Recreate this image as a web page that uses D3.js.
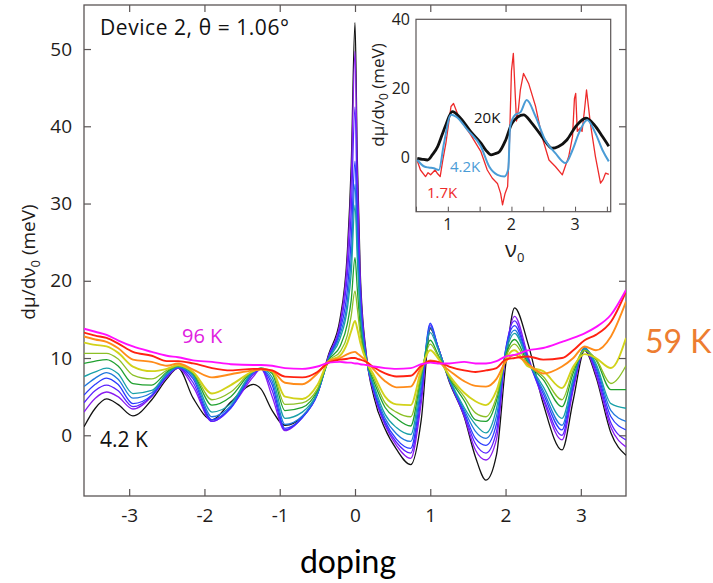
<!DOCTYPE html>
<html><head><meta charset="utf-8">
<script src="https://cdn.jsdelivr.net/npm/d3@7"></script>
<style>
body{margin:0;background:#fff;}
svg{display:block;font-family:"Open Sans",sans-serif;}
</style>
</head><body>
<svg id="c" width="713" height="583"></svg>
<script>
// ---------- main panel data ----------
const doping = [-3.6,-3.45,-3.3,-3.15,-2.95,-2.7,-2.5,-2.35,-2.15,-1.9,-1.65,-1.35,-1.25,-1.1,-0.93,-0.7,-0.5,-0.35,-0.2,-0.1,-0.05,0,0.03,0.07,0.15,0.25,0.4,0.55,0.74,0.88,1.0,1.1,1.25,1.45,1.6,1.74,1.88,2.0,2.12,2.3,2.5,2.75,2.9,3.05,3.2,3.4,3.6];
const T01_4p2K = [1.1,3.5,4.7,4.0,2.5,4.6,7.3,8.7,4.8,2.0,4.3,6.6,6.0,3.2,1.3,2.4,5.5,10.5,15.0,24,35,53.4,36,21,10.5,5.0,0.8,-1.8,-3.8,2.0,13.8,11.5,7.0,2.4,-2.8,-5.8,-2.5,9.0,16.5,11.8,4.1,-1.9,4.6,11.0,7.6,0.3,-2.6];
const T02 = [3.0,4.8,5.6,5.0,3.4,5.0,7.5,8.7,6.3,1.8,3.6,7.6,8.6,5.0,0.6,2.3,5.3,10.3,14.5,23,33,49.7,34,20,10.3,5.5,1.3,-1.3,-3.0,4.2,14.0,11.5,7.2,2.5,-1.9,-3.2,-0.5,10.5,15.4,10.2,4.6,-0.6,5.9,11.2,7.9,1.0,-1.5];
const T03 = [4.2,5.8,6.5,5.8,3.7,5.1,7.6,8.8,6.8,1.8,3.5,7.9,8.6,5.8,0.7,2.3,5.3,10.2,14.0,21,29,42.5,30,19,10.2,5.7,1.5,-0.9,-2.3,5.0,14.3,11.5,7.2,2.7,-1.1,-2.3,0.5,11.0,14.8,9.8,4.9,0.0,6.3,11.3,8.3,1.6,-0.6];
const T04 = [5.2,6.6,7.4,6.6,4.1,5.2,7.7,8.8,7.3,2.0,3.6,8.1,8.6,6.5,0.9,2.3,5.3,10.0,13.5,19,25.5,35.5,27,17.5,10.0,5.9,1.8,-0.5,-1.7,5.9,14.5,11.5,7.3,3.0,-0.4,-1.3,1.5,11.0,14.2,9.7,5.4,0.7,6.8,11.3,8.7,2.4,0.7];
const T05 = [6.3,7.4,8.1,7.3,4.8,5.5,7.9,8.8,7.6,2.4,3.8,8.2,8.6,7.0,1.4,2.5,5.4,9.9,13.0,17.5,23,32.5,25,16.5,9.9,6.2,2.2,0.2,-0.8,6.5,14.0,11.4,7.3,3.3,0.5,-0.4,2.5,10.8,13.6,9.6,5.8,1.3,7.1,11.2,9.0,3.2,1.8];
const T06 = [7.6,8.2,8.7,8.0,5.4,5.8,8.0,8.9,7.8,3.0,4.1,8.3,8.7,7.5,2.2,3.0,5.5,9.8,12.5,16.5,21,29.8,23,15.5,9.8,6.5,2.7,1.0,0.1,7.2,13.3,11.2,7.4,3.6,1.4,0.3,3.5,10.5,13.2,9.5,6.3,2.2,7.4,11.2,9.3,4.1,3.5];
const T07 = [9.3,9.6,9.8,9.0,6.7,6.5,8.2,9.0,8.0,3.9,5.0,8.4,8.7,8.0,3.2,3.6,5.8,9.7,11.5,14.5,17.5,23.0,19,14,9.7,7.0,3.6,2.2,1.2,7.8,12.3,10.5,7.5,4.5,2.0,1.8,4.5,10.2,12.4,9.3,7.2,3.7,8.1,11.0,9.8,5.9,5.9];
const T08 = [10.6,10.6,10.6,9.9,7.8,7.3,8.4,9.0,8.1,4.6,5.6,8.4,8.6,8.2,4.0,4.2,6.0,9.6,10.8,13.0,15.5,18.7,16.5,13,9.6,7.4,4.2,3.0,2.4,8.0,11.8,10.3,7.6,5.0,2.9,2.4,5.0,10.0,11.8,9.1,7.6,4.6,8.5,11.0,9.9,6.7,9.0];
const T09 = [12.0,11.7,11.5,10.7,8.9,8.3,8.6,9.1,8.2,5.4,6.5,8.3,8.6,8.3,5.0,4.7,6.5,9.6,10.3,12,13.5,14.8,13.8,12,9.6,7.8,5.0,4.0,3.9,8.5,11.0,10.0,7.8,5.5,4.4,3.9,5.8,9.8,11.0,8.9,8.3,6.1,8.9,10.5,10.0,8.7,12.6];
const T10_59K = [12.8,12.4,12.1,11.3,9.8,9.5,9.0,9.3,8.5,7.5,7.9,8.4,8.5,8.3,6.8,6.6,8.0,9.6,10.0,10.5,10.7,10.8,10.6,10.3,9.6,8.5,7.0,6.2,6.3,8.8,9.7,9.5,8.4,7.0,6.4,6.3,7.3,9.5,10.4,9.2,8.0,8.9,10.0,11.5,11.0,12.8,17.3];
const T11 = [13.3,12.9,12.6,11.9,10.8,10.3,9.6,9.6,9.3,8.7,8.4,8.6,8.6,8.4,7.6,7.5,8.2,9.4,9.8,9.9,10.0,10.0,9.9,9.8,9.5,8.8,8.0,7.6,7.7,9.0,9.6,9.5,8.9,8.4,8.2,8.4,8.7,9.8,10.0,10.2,9.8,10.0,11.0,12.3,13.0,14.7,18.6];
const T12_96K = [13.8,13.4,13.0,12.3,11.5,10.8,10.3,10.1,9.7,9.5,9.2,9.1,9.1,9.0,8.7,8.6,8.9,9.4,9.5,9.4,9.4,9.3,9.3,9.2,9.1,8.9,8.7,8.6,8.7,9.2,9.4,9.3,9.3,9.5,9.3,9.3,9.6,10.2,10.4,11.0,11.3,12.1,12.6,13.2,14.0,15.6,18.8];
const mainSeries = [T01_4p2K,T02,T03,T04,T05,T06,T07,T08,T09,T10_59K,T11,T12_96K];
const mainColors = ["#111111","#8a1cf0","#5a22ff","#2b3bff","#2078dc","#18a0a8","#20a030","#8cc026","#d2d21a","#ff8c1a","#ff2212","#ff10ff"];
const mainXTicks = [-3,-2,-1,0,1,2,3];
const mainYTicks = [0,10,20,30,40,50];

// ---------- inset data ----------
const inset20K_nu = [0.52,0.6,0.68,0.76,0.84,0.91,0.97,1.07,1.2,1.36,1.52,1.6,1.68,1.74,1.81,1.91,2.01,2.19,2.32,2.48,2.64,2.74,2.87,3.01,3.17,3.3,3.43,3.53];
const inset20K_val = [-0.3,-0.6,-0.8,0.8,3.1,6.5,9.4,13.2,11.3,7.4,4.1,2.0,0.7,1.0,1.6,5.0,9.9,12.3,9.9,6.0,2.6,3.1,5.0,8.9,11.3,9.4,6.0,3.2];
const inset4K_nu = [0.52,0.63,0.7,0.78,0.86,0.94,1.05,1.13,1.31,1.52,1.65,1.78,1.89,1.95,1.98,2.06,2.14,2.24,2.38,2.53,2.69,2.85,2.96,3.06,3.19,3.32,3.43,3.53];
const inset4K_val = [-0.8,-2.7,-3.0,-3.2,-3.7,4.1,12.3,11.8,7.9,3.1,-2.7,-5.1,-5.6,-3.5,8.9,12.3,13.0,16.6,11.8,5.0,1.2,-1.7,2.1,7.0,10.8,7.0,2.1,-1.2];
const inset1K_nu = [0.52,0.57,0.65,0.69,0.73,0.8,0.84,0.88,0.92,0.97,1.05,1.09,1.18,1.36,1.52,1.62,1.7,1.78,1.83,1.86,1.9,1.94,1.97,2.0,2.03,2.06,2.08,2.11,2.14,2.19,2.27,2.38,2.48,2.59,2.69,2.8,2.9,2.96,2.99,3.01,3.035,3.08,3.11,3.15,3.18,3.24,3.32,3.4,3.44,3.48,3.53];
const inset1K_val = [-1.0,-3.7,-5.6,-4.5,-5.1,-3.7,-4.8,-5.6,-1.0,4.1,14.7,15.6,11.3,6.5,1.6,-3.7,-6.1,-7.6,-10.5,-13.8,-10.5,-8.5,5.0,25,30.1,18,10.5,14,19.5,24.3,21.4,14.7,6.0,-0.8,-2.7,-5.1,0.2,6.0,17,18.5,7.5,8.5,7.5,14,19.5,9.9,0.2,-7.5,-6.5,-4.6,-5.0];
const insetXTicks = [0.5,1,1.5,2,2.5,3,3.5];
const insetXLabels = [1,2,3];
const insetYTicks = [0,20,40];

// ---------- drawing ----------
const svg = d3.select("#c");
const txt = "#231c1a", axisCol = "#5a5555";

const x = d3.scaleLinear().domain([-3.6,3.6]).range([84,626]);
const y = d3.scaleLinear().domain([-7.86,55.7]).range([496,5]);

svg.append("rect").attr("x",84).attr("y",5).attr("width",542).attr("height",491)
  .attr("fill","none").attr("stroke",axisCol).attr("stroke-width",1.3);

svg.append("clipPath").attr("id","mc").append("rect")
  .attr("x",84).attr("y",5).attr("width",542).attr("height",491);

const line = d3.line().x((d,i)=>x(doping[i])).y(d=>y(d)).curve(d3.curveMonotoneX);
const gLines = svg.append("g").attr("clip-path","url(#mc)");
mainSeries.forEach((s,k)=>{
  gLines.append("path").attr("d",line(s)).attr("fill","none")
    .attr("stroke",mainColors[k]).attr("stroke-width",k>=8?1.9:1.3)
    .attr("stroke-linejoin","round");
});

const axBottom = svg.append("g").attr("transform","translate(0,496)")
  .call(d3.axisBottom(x).tickValues(mainXTicks).tickSize(-7).tickPadding(13).tickFormat(d=>d<0?"-"+Math.abs(d):String(d)));
const axTop = svg.append("g").attr("transform","translate(0,5)")
  .call(d3.axisTop(x).tickValues(mainXTicks).tickSize(-7).tickFormat(""));
const axLeft = svg.append("g").attr("transform","translate(84,0)")
  .call(d3.axisLeft(y).tickValues(mainYTicks).tickSize(-7).tickPadding(12));
const axRight = svg.append("g").attr("transform","translate(626,0)")
  .call(d3.axisRight(y).tickValues(mainYTicks).tickSize(-7).tickFormat(""));
[axBottom,axTop,axLeft,axRight].forEach(g=>{
  g.select(".domain").remove();
  g.selectAll(".tick line").attr("stroke",axisCol).attr("stroke-width",1.2);
  g.selectAll("text").attr("fill",txt).style("font-family","'Open Sans',sans-serif").style("font-size","19px");
});

svg.append("text").attr("x",100).attr("y",35).attr("fill","#111").style("font-size","21px")
  .attr("textLength",189).attr("lengthAdjust","spacing")
  .text("Device 2,  \u03B8 = 1.06\u00B0");
svg.append("text").attr("x",182).attr("y",343).attr("fill","#e020e0").style("font-size","20px").text("96 K");
svg.append("text").attr("x",100).attr("y",447).attr("fill","#111").style("font-size","21px").text("4.2 K");
const yl = svg.append("text").attr("transform","translate(35,262) rotate(-90)")
  .attr("text-anchor","middle").attr("fill",txt).style("font-size","19px");
yl.append("tspan").text("d\u03BC/d\u03BD");
yl.append("tspan").attr("dy",5).style("font-size","13px").text("0");
yl.append("tspan").attr("dy",-5).text(" (meV)");

svg.append("text").attr("x",645).attr("y",353).attr("fill","#ed7d31")
  .style("font-family","Lato,sans-serif").style("font-size","32px").text("59 K");
svg.append("text").attr("x",348).attr("y",573).attr("text-anchor","middle").attr("fill","#000")
  .style("font-family","Lato,sans-serif").style("font-size","32px").text("doping");

// ---------- inset ----------
const xi = d3.scaleLinear().domain([0.5,3.56]).range([416,610.7]);
const yi = d3.scaleLinear().domain([-15.8,40]).range([211.7,19.3]);
svg.append("rect").attr("x",416).attr("y",19.3).attr("width",194.7).attr("height",192.4)
  .attr("fill","#fff").attr("stroke",axisCol).attr("stroke-width",1.2);
svg.append("clipPath").attr("id","ic").append("rect")
  .attr("x",416).attr("y",19.3).attr("width",194.7).attr("height",192.4);
const gi = svg.append("g").attr("clip-path","url(#ic)");
const lineI = (nu,val,curve)=>d3.line().x((d,i)=>xi(nu[i])).y(d=>yi(d)).curve(curve)(val);
gi.append("path").attr("d",lineI(inset1K_nu,inset1K_val,d3.curveLinear)).attr("fill","none")
  .attr("stroke","#ee2a2a").attr("stroke-width",1.3).attr("stroke-linejoin","round");
gi.append("path").attr("d",lineI(inset20K_nu,inset20K_val,d3.curveMonotoneX)).attr("fill","none")
  .attr("stroke","#111").attr("stroke-width",2.8).attr("stroke-linejoin","round");
gi.append("path").attr("d",lineI(inset4K_nu,inset4K_val,d3.curveMonotoneX)).attr("fill","none")
  .attr("stroke","#4a9cd6").attr("stroke-width",2).attr("stroke-linejoin","round");

const ib = svg.append("g").attr("transform","translate(0,211.7)")
  .call(d3.axisBottom(xi).tickValues(insetXTicks).tickSize(-5).tickFormat(""));
ib.select(".domain").remove();
ib.selectAll(".tick line").attr("stroke",axisCol);
svg.selectAll(null).data(insetXLabels).enter().append("text")
  .attr("x",d=>xi(d)).attr("y",230).attr("text-anchor","middle").attr("fill",txt)
  .style("font-size","16px").text(d=>d);
const nl = svg.append("text").attr("x",505).attr("y",257).attr("fill",txt).style("font-size","22px");
nl.append("tspan").text("\u03BD");
nl.append("tspan").attr("dy",5).style("font-size","13px").text("0");
svg.selectAll(null).data(insetYTicks).enter().append("text")
  .attr("x",410).attr("y",d=>yi(d)).attr("dy","0.35em").attr("text-anchor","end").attr("fill",txt)
  .style("font-size","16px").text(d=>d);
const iyl = svg.append("text").attr("transform","translate(384,95) rotate(-90)")
  .attr("text-anchor","middle").attr("fill",txt).style("font-size","17px");
iyl.append("tspan").text("d\u03BC/d\u03BD");
iyl.append("tspan").attr("dy",4).style("font-size","12px").text("0");
iyl.append("tspan").attr("dy",-4).text(" (meV)");

svg.append("text").attr("x",474).attr("y",123).attr("fill","#111").style("font-size","15px").text("20K");
svg.append("text").attr("x",450).attr("y",172).attr("fill","#4a9cd6").style("font-size","15px").text("4.2K");
svg.append("text").attr("x",427).attr("y",198).attr("fill","#ee2a2a").style("font-size","15px").text("1.7K");
</script>
</body></html>
